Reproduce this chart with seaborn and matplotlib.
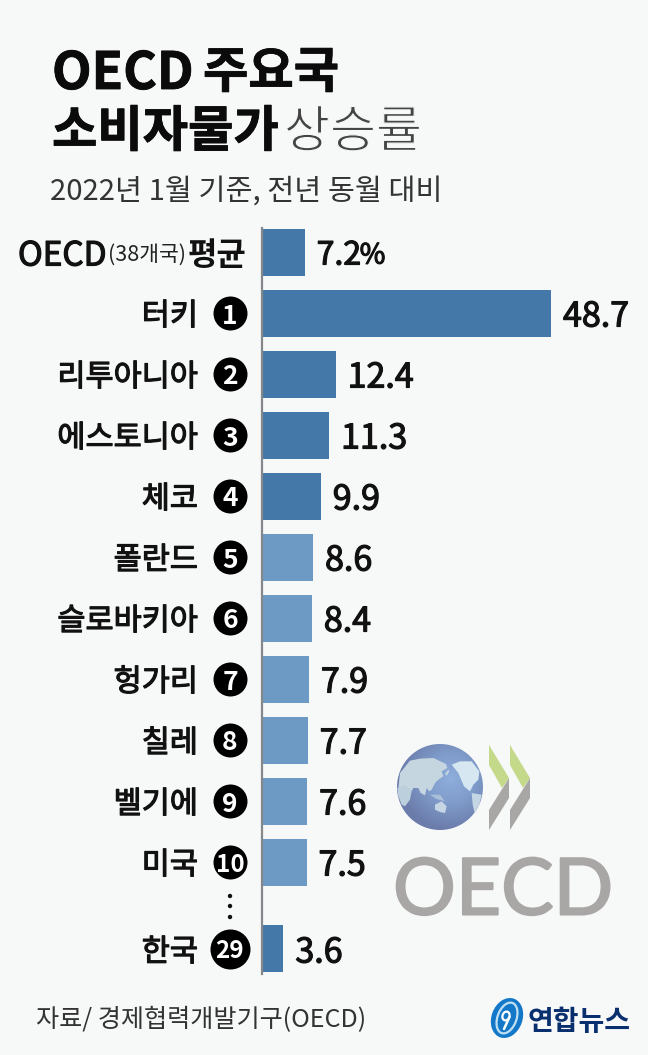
import numpy as np
import pandas as pd
import seaborn as sns
import matplotlib
matplotlib.use("Agg")
import matplotlib.pyplot as plt
import matplotlib.patheffects as pe
from matplotlib.colors import LinearSegmentedColormap
from matplotlib.patches import Circle, Polygon, Ellipse, Rectangle

# ---------- data ----------
countries = ["OECD 평균", "터키", "리투아니아", "에스토니아", "체코", "폴란드", "슬로바키아",
             "헝가리", "칠레", "벨기에", "미국", "한국"]
values = [7.2, 48.7, 12.4, 11.3, 9.9, 8.6, 8.4, 7.9, 7.7, 7.6, 7.5, 3.6]
ranks = ["", "1", "2", "3", "4", "5", "6", "7", "8", "9", "10", "29"]
tiers = ["dark", "dark", "dark", "dark", "dark", "light", "light", "light", "light", "light", "light", "dark"]
value_labels = ["7.2", "48.7", "12.4", "11.3", "9.9", "8.6", "8.4", "7.9", "7.7", "7.6", "7.5", "3.6"]

W, H = 670, 1055
DARK, LIGHT = "#4478A8", "#6D9AC5"
BG = "#F7F8F8"
INK = "#111111"
KR = ["Noto Sans CJK KR", "DejaVu Sans"]
sns.set_theme(style="white")
plt.rcParams["font.family"] = KR
plt.rcParams["axes.unicode_minus"] = False

fig = plt.figure(figsize=(W / 100, H / 100), dpi=100, facecolor="white")

# pixel-space canvas for background and decoration
deco = fig.add_axes([0, 0, 1, 1], zorder=0)
deco.set_xlim(0, W); deco.set_ylim(H, 0); deco.axis("off")
deco.add_patch(Rectangle((0, 0), 648, H, fc=BG, ec="none"))

# chart axes
x0, x1 = 262, 262 + 50 * 5.934
top, bot = 228, 974
ax = fig.add_axes([x0 / W, 1 - bot / H, (x1 - x0) / W, (bot - top) / H], zorder=1)
ax.patch.set_alpha(0)
row = np.arange(len(values), dtype=float)
row[-1] += 0.426  # the gap before Korea
df = pd.DataFrame({"row": row, "value": values, "tier": tiers})
sns.barplot(data=df, x="value", y="row", hue="tier", orient="y", native_scale=True,
            palette={"dark": DARK, "light": LIGHT}, dodge=False, legend=False,
            width=47 / 61, ax=ax, saturation=1, linewidth=0)
ax.set_xlim(0, 50)
ax.set_ylim((bot - 252) / 61, (top - 252) / 61)
ax.set_xlabel(""); ax.set_ylabel("")
ax.set_xticks([])
for s in ["top", "right", "bottom"]:
    ax.spines[s].set_visible(False)
ax.spines["left"].set_color("#85888B")
ax.spines["left"].set_linewidth(1.6)
ax.set_yticks(row[1:], countries[1:], fontsize=22, color=INK)
ax.tick_params(axis="y", length=0, pad=64 / 100 * 72)
heavy = [pe.withStroke(linewidth=0.85, foreground=INK)]
for lab in ax.get_yticklabels():
    lab.set_path_effects(heavy)


def px(x):
    return (x - x0) / 5.934


# first row label, in three weights
ax.text(px(18), 0, "OECD", ha="left", va="center_baseline", fontsize=24, color=INK,
        path_effects=heavy, clip_on=False)
ax.text(px(108.5), 0, "(38개국)", ha="left", va="center_baseline", fontsize=15.5, color="#222222",
        clip_on=False)
ax.text(px(246), 0, "평균", ha="right", va="center_baseline", fontsize=23, color=INK,
        fontweight="bold", clip_on=False)

# rank badges
for r, rk in zip(row[1:], ranks[1:]):
    d = 40 if rk == "29" else 34
    ax.scatter([px(230)], [r], s=(d * 0.72) ** 2, color="black", linewidths=0, clip_on=False, zorder=3)
    ax.text(px(230), r, rk, ha="center", va="center_baseline", color="white",
            fontsize=19 if len(rk) == 1 else 17.5, fontweight="bold", clip_on=False, zorder=4)

# value labels
for v, r, t in zip(values, row, value_labels):
    ax.annotate(t, xy=(v, r), xytext=(12, 0), textcoords="offset pixels", ha="left",
                va="center_baseline", fontsize=24.5 if r else 23, color=INK,
                path_effects=heavy, annotation_clip=False)
ax.annotate("%", xy=(values[0], row[0]), xytext=(55, 0), textcoords="offset pixels", ha="left",
            va="center_baseline", fontsize=20, color=INK, path_effects=heavy, annotation_clip=False)

# ellipsis between 10th and 29th
for yy in (896, 906, 917):
    deco.add_patch(Circle((230, yy), 2.2, fc=INK, ec="none"))

# headings
bold = [pe.withStroke(linewidth=0.6, foreground="#0B0B0B")]
deco.text(52, 68, "OECD", fontsize=37, fontweight="bold", color="#0B0B0B", ha="left", va="center_baseline", path_effects=bold)
deco.text(203, 68, "주요국", fontsize=35.5, fontweight="bold", color="#0B0B0B", ha="left", va="center_baseline", path_effects=bold)
deco.text(52, 127, "소비자물가", fontsize=35.5, fontweight="bold", color="#0B0B0B", ha="left", va="center_baseline", path_effects=bold)
deco.text(284, 127, "상승률", fontsize=36, color="#444444", ha="left", va="center_baseline",
          path_effects=[pe.Normal(), pe.Stroke(linewidth=0.9, foreground=BG)])
deco.text(50, 188, "2022년 1월 기준, 전년 동월 대비", fontsize=21.1, color="#333333", ha="left", va="center_baseline")
deco.text(36, 1017, "자료/ 경제협력개발기구(OECD)", fontsize=18.1, color="#333333", ha="left", va="center_baseline")

# OECD logo: globe
cx, cy, rad = 440, 787, 43
g = np.linspace(-1, 1, 200)
gx, gy = np.meshgrid(g, g)
dist = np.hypot(gx - 0.25, gy + 0.2)
im = deco.imshow(dist, extent=(cx - rad, cx + rad, cy + rad, cy - rad),
                 cmap=LinearSegmentedColormap.from_list("g", ["#8FAEDC", "#7F9BC9", "#6B7CAB"]),
                 vmin=0, vmax=1.2, zorder=1, aspect="auto")
clip = Circle((cx, cy), rad, transform=deco.transData)
im.set_clip_path(clip)
deco.set_xlim(0, W); deco.set_ylim(H, 0)
lands = [
    ([(30, 105), (60, 68), (90, 62), (130, 60), (168, 78), (172, 90), (155, 100), (160, 115), (145, 125),
      (135, 135), (125, 155), (118, 160), (110, 150), (105, 172), (92, 165), (85, 150), (70, 150),
      (65, 160), (45, 145), (25, 150)], "#C6D6E0"),
    ([(22, 150), (45, 140), (65, 160), (60, 185), (45, 205), (35, 200), (25, 175)], "#BCCFDC"),
    ([(135, 200), (155, 190), (170, 205), (165, 225), (150, 222), (135, 215)], "#C6D6E4"),
    ([(120, 170), (150, 170), (165, 190), (140, 183)], "#A9C0DA"),
    ([(165, 108), (175, 95), (178, 100), (170, 113)], "#C6D6E0"),
    ([(185, 80), (210, 70), (245, 70), (268, 100), (265, 125), (250, 140), (240, 160), (222, 145), (205, 105)], "#D6E7F1"),
    ([(245, 165), (275, 170), (265, 215), (255, 230), (248, 200)], "#C4D6E4"),
]
for pts, col in lands:
    p = Polygon([(390 + a / 3, 738 + b / 3) for a, b in pts], fc=col, ec="none", zorder=1.5)
    deco.add_patch(p)
    p.set_clip_path(clip)

# OECD logo: chevrons
for dx in (0, 21):
    deco.add_patch(Polygon([(489 + dx, 745), (509 + dx, 778), (502 + dx, 788), (489 + dx, 765)], fc="#C4D98A", ec="none", zorder=2))
    deco.add_patch(Polygon([(509 + dx, 778), (509 + dx, 798), (489 + dx, 830), (489 + dx, 810)], fc="#A9A7A5", ec="none", zorder=2))
deco.text(393, 886, "OECD", fontsize=56.5, color="#A9A7A5", ha="left", va="center_baseline", family="Lato",
          path_effects=[pe.withStroke(linewidth=1.5, foreground="#A9A7A5")])

# Yonhap mark
deco.add_patch(Ellipse((507, 1018), 31, 41, angle=20, fc="#1478C8", ec="none", zorder=2))
deco.add_patch(Ellipse((507, 1018), 19, 32, angle=20, fc="none", ec="#BFE0F4", lw=1.6, zorder=2.1))
deco.add_patch(Ellipse((506, 1016), 7, 9, angle=20, fc="none", ec="white", lw=1.6, zorder=2.2))
deco.plot([509.5, 504], [1017, 1029], color="white", lw=1.8, zorder=2.2, solid_capstyle="round")
deco.set_xlim(0, W); deco.set_ylim(H, 0)
deco.text(528, 1019, "연합뉴스", fontsize=20.2, fontweight="bold", color="#0A2F6E", ha="left", va="center_baseline")

fig.savefig("out.png", dpi=100, facecolor="white")
